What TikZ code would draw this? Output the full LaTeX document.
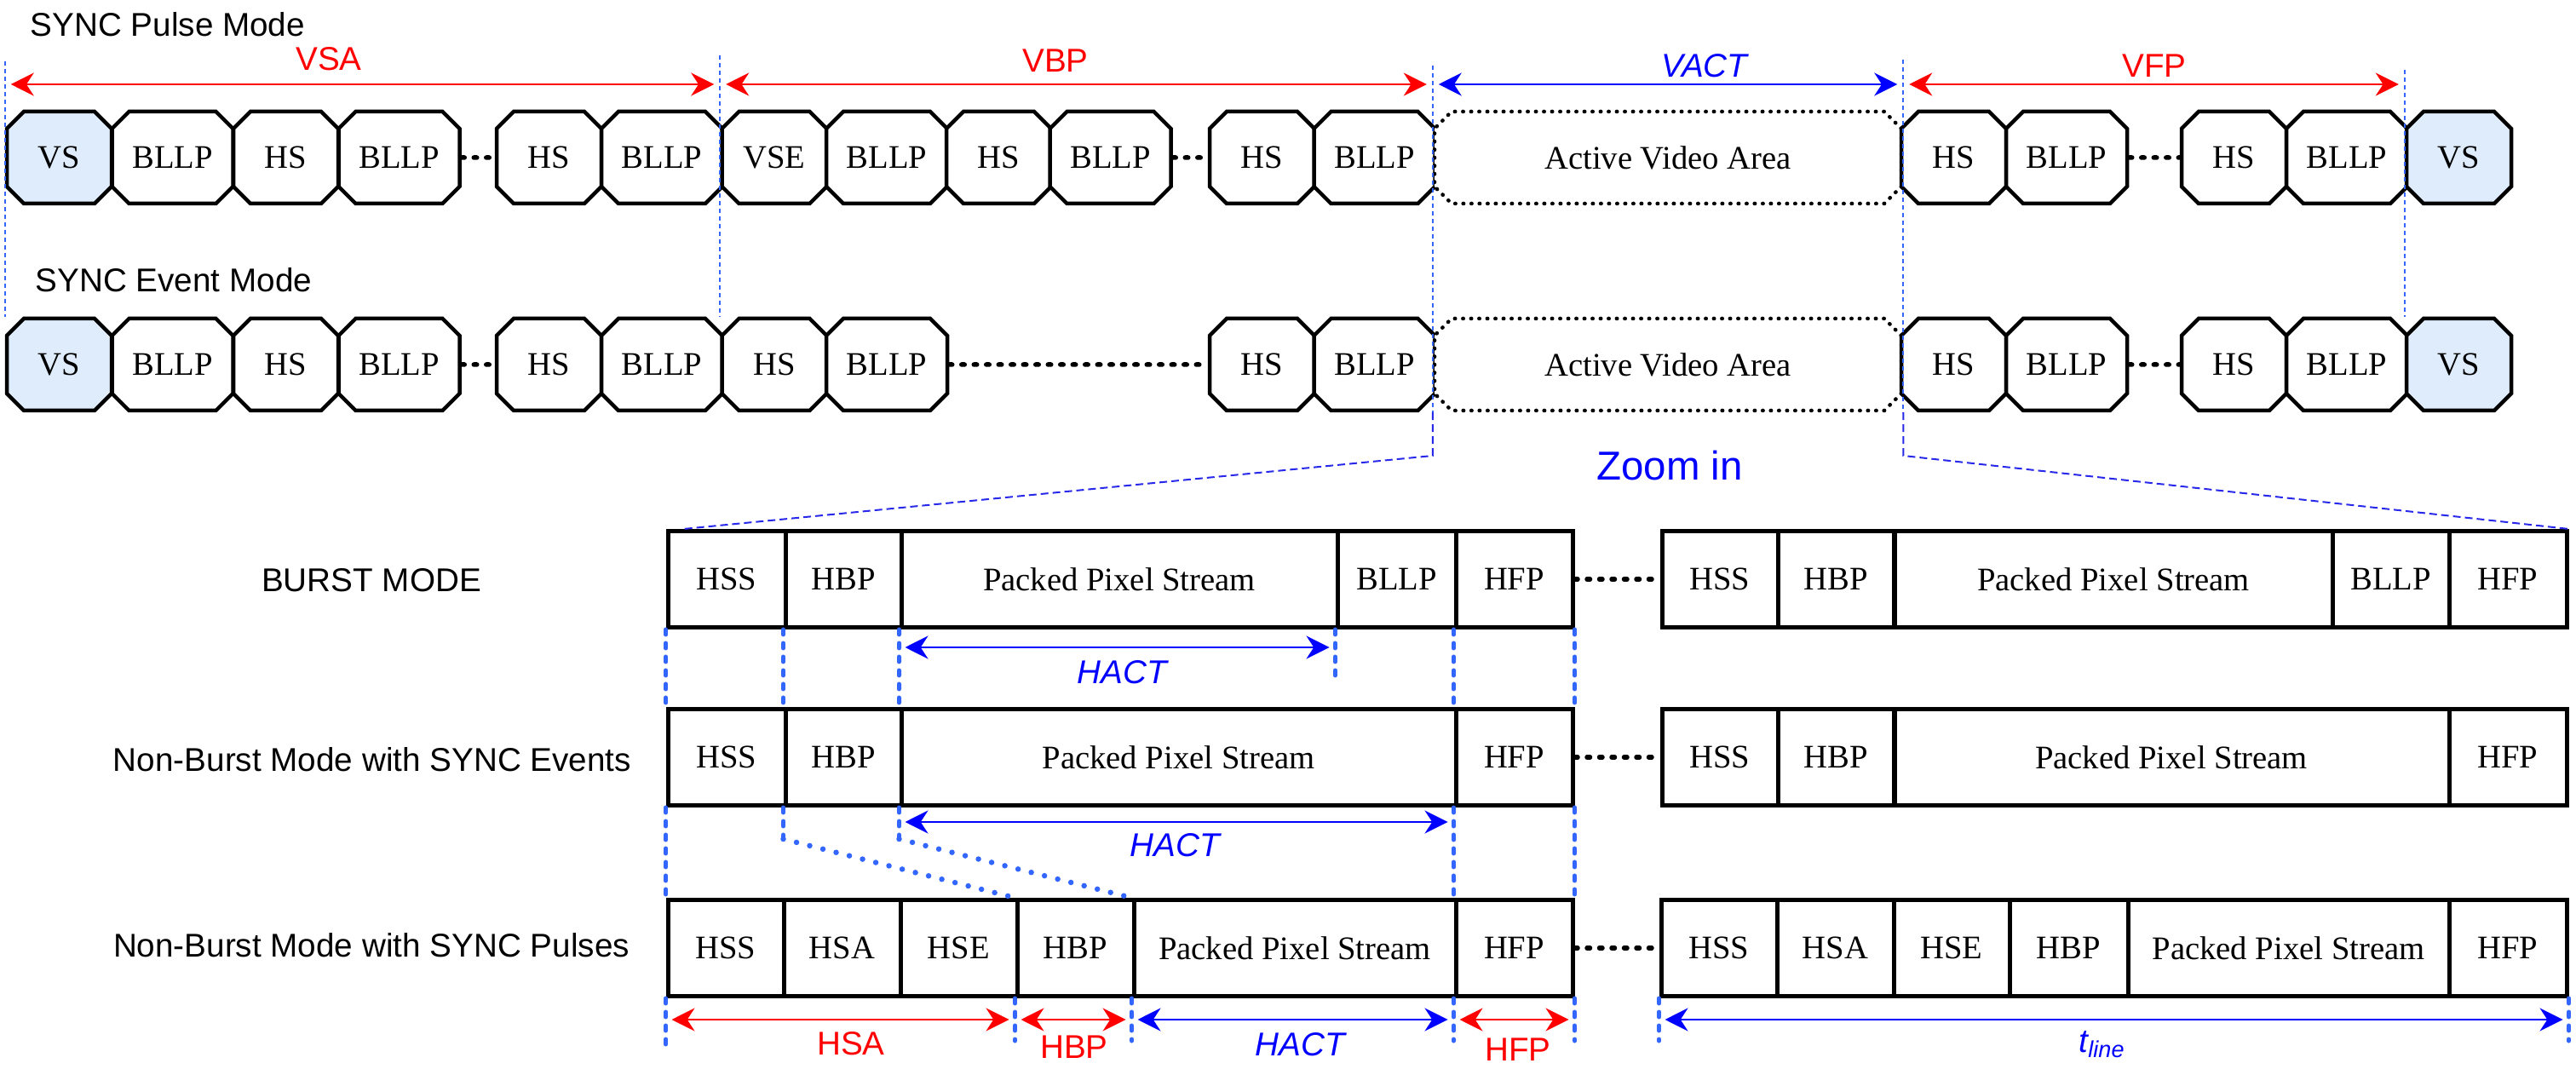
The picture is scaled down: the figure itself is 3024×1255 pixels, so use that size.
\documentclass[tikz,border=0pt]{standalone}
\usepackage{fontspec}
\setmainfont{Liberation Serif}
\setsansfont{Liberation Sans}
\usetikzlibrary{shapes.misc,arrows.meta}
\definecolor{guideblue}{RGB}{51,102,255}
\definecolor{zoomblue}{RGB}{40,40,235}
\definecolor{vsfill}{RGB}{222,236,252}
\definecolor{dimred}{RGB}{255,0,0}
\definecolor{dimblue}{RGB}{0,0,255}

\begin{document}
\begin{tikzpicture}[x=0.1mm, y=-0.1mm,
    pk/.style={chamfered rectangle, chamfered rectangle xsep=1.0mm,
               chamfered rectangle ysep=1.0mm, draw, line width=0.45mm, fill=white,
               minimum height=10.8mm, inner sep=0pt, font=\fontsize{11}{13}\selectfont},
    hs/.style={pk, minimum width=12.3mm},
    ll/.style={pk, minimum width=14.2mm},
    vs/.style={hs, fill=vsfill},
    actarea/.style={pk, minimum width=54.8mm, line width=0.45mm, line cap=round,
                    dash pattern=on 0.05mm off 0.9mm},
    cell/.style={draw, line width=0.5mm, minimum height=11.3mm, inner sep=0pt,
                 font=\fontsize{11}{13}\selectfont},
    gapdots/.style={line width=0.55mm, line cap=round, dash pattern=on 0.35mm off 1.1mm},
    thinguide/.style={guideblue, line width=0.2mm, dash pattern=on 0.5mm off 0.4mm},
    guide/.style={guideblue, line width=0.5mm, line cap=round, dash pattern=on 0.6mm off 1.0mm},
    zoomline/.style={zoomblue, line width=0.2mm, dash pattern=on 0.9mm off 0.5mm},
    zoomdots/.style={guideblue, line width=0.65mm, line cap=round, dash pattern=on 0pt off 1.6mm},
    dimr/.style={<->, dimred, line width=0.2mm, shorten <=0.7mm, shorten >=0.7mm},
    dimb/.style={dimr, dimblue},
    modelab/.style={inner sep=0pt, font=\sffamily\fontsize{11}{13}\selectfont},
    dimlab/.style={modelab, text=dimred},
    dimlabb/.style={modelab, text=dimblue, font=\sffamily\itshape\fontsize{11}{13}\selectfont},
    >={Stealth[length=2.7mm,width=2.7mm]}]
    \useasboundingbox (0,0) rectangle (3024,1255);

    % SYNC pulse mode
    \node[modelab, anchor=base west] (tpm) at (35,43) {SYNC Pulse Mode};
    \node[vs] (pu1)  at (69.5,185)   {VS};
    \node[ll] (pu2)  at (202.5,185)  {BLLP};
    \node[hs] (pu3)  at (335.5,185)  {HS};
    \node[ll] (pu4)  at (468.5,185)  {BLLP};
    \node[hs] (pu5)  at (644.5,185)  {HS};
    \node[ll] (pu6)  at (777,185)    {BLLP};
    \node[hs] (pu7)  at (909,185)    {VSE};
    \node[ll] (pu8)  at (1041,185)   {BLLP};
    \node[hs] (pu9)  at (1172.5,185) {HS};
    \node[ll] (pu10) at (1303.5,185) {BLLP};
    \node[hs] (pu11) at (1481.5,185) {HS};
    \node[ll] (pu12) at (1613.5,185) {BLLP};
    \node[actarea] (pu13) at (1958,185) {Active Video Area};
    \node[hs] (pu14) at (2293.5,185) {HS};
    \node[ll] (pu15) at (2426,185)   {BLLP};
    \node[hs] (pu16) at (2622.5,185) {HS};
    \node[ll] (pu17) at (2755,185)   {BLLP};
    \node[vs] (pu18) at (2886.5,185) {VS};
    \draw[gapdots] (pu4) -- (pu5);
    \draw[gapdots] (pu10) -- (pu11);
    \draw[gapdots] (pu15) -- (pu16);

    % SYNC event mode
    \node[modelab, anchor=base west] (tem) at (41,343) {SYNC Event Mode};
    \node[vs] (ev1)  at (69.5,428)   {VS};
    \node[ll] (ev2)  at (202.5,428)  {BLLP};
    \node[hs] (ev3)  at (335.5,428)  {HS};
    \node[ll] (ev4)  at (468.5,428)  {BLLP};
    \node[hs] (ev5)  at (644.5,428)  {HS};
    \node[ll] (ev6)  at (777,428)    {BLLP};
    \node[hs] (ev7)  at (909,428)    {HS};
    \node[ll] (ev8)  at (1041,428)   {BLLP};
    \node[hs] (ev9)  at (1481.5,428) {HS};
    \node[ll] (ev10) at (1613.5,428) {BLLP};
    \node[actarea] (ev11) at (1958,428) {Active Video Area};
    \node[hs] (ev12) at (2293.5,428) {HS};
    \node[ll] (ev13) at (2426,428)   {BLLP};
    \node[hs] (ev14) at (2622.5,428) {HS};
    \node[ll] (ev15) at (2755,428)   {BLLP};
    \node[vs] (ev16) at (2886.5,428) {VS};
    \draw[gapdots] (ev4) -- (ev5);
    \draw[gapdots] (ev8) -- (ev9);
    \draw[gapdots] (ev13) -- (ev14);

    % vertical timing
    \draw[thinguide] (pu1.west |- 0,72) -- (ev1.west |- ev1.north);
    \draw[thinguide] (pu7.west |- 0,65) -- (ev7.west |- ev7.north);
    \draw[thinguide] (pu13.west |- 0,77) -- (ev11.west |- ev11.south);
    \draw[thinguide] (pu13.east |- 0,70) -- (ev11.east |- ev11.south);
    \draw[thinguide] (pu18.west |- 0,82) -- (ev16.west |- ev16.north);
    \draw[dimr] (pu1.west |- 0,99) -- (pu7.west |- 0,99);
    \draw[dimr] (pu7.west |- 0,99) -- (pu13.west |- 0,99);
    \draw[dimb] (pu13.west |- 0,99) -- (pu13.east |- 0,99);
    \draw[dimr] (pu13.east |- 0,99) -- (pu18.west |- 0,99);
    \node[dimlab] (lvsa) at (386,69) {VSA};
    \node[dimlab] (lvbp) at (1239,71) {VBP};
    \node[dimlabb] (lvact) at (2001,77) {VACT};
    \node[dimlab] (lvfp) at (2529,77) {VFP};

    % zoom in
    \node[modelab, text=dimblue, font=\sffamily\fontsize{13.5}{16}\selectfont] (zin) at (1960,547) {Zoom in};

    % burst mode
    \node[modelab] (tbm) at (436,681) {BURST MODE};
    \node[cell, minimum width=13.8mm] (bu1) at (853,680)    {HSS};
    \node[cell, minimum width=13.6mm] (bu2) at (990,680)    {HBP};
    \node[cell, minimum width=51.2mm] (bu3) at (1314,680)   {Packed Pixel Stream};
    \node[cell, minimum width=13.9mm] (bu4) at (1639.5,680) {BLLP};
    \node[cell, minimum width=13.7mm] (bu5) at (1777.5,680) {HFP};
    \node[cell, minimum width=13.6mm] (bur1) at (2019,680)   {HSS};
    \node[cell, minimum width=13.7mm] (bur2) at (2155.5,680) {HBP};
    \node[cell, minimum width=51.5mm] (bur3) at (2481,680)   {Packed Pixel Stream};
    \node[cell, minimum width=13.7mm] (bur4) at (2806.5,680) {BLLP};
    \node[cell, minimum width=13.8mm] (bur5) at (2944,680)   {HFP};
    \draw[gapdots] (bu5) -- (bur1);

    % non-burst mode with sync events
    \node[modelab] (tne) at (437,892) {Non-Burst Mode with SYNC Events};
    \node[cell, minimum width=13.8mm] (ne1) at (853,889)    {HSS};
    \node[cell, minimum width=13.6mm] (ne2) at (990,889)    {HBP};
    \node[cell, minimum width=65.1mm] (ne3) at (1383.5,889) {Packed Pixel Stream};
    \node[cell, minimum width=13.7mm] (ne4) at (1777.5,889) {HFP};
    \node[cell, minimum width=13.6mm] (ner1) at (2019,889)   {HSS};
    \node[cell, minimum width=13.7mm] (ner2) at (2155.5,889) {HBP};
    \node[cell, minimum width=65.2mm] (ner3) at (2549,889)   {Packed Pixel Stream};
    \node[cell, minimum width=13.8mm] (ner4) at (2944,889)   {HFP};
    \draw[gapdots] (ne4) -- (ner1);

    % non-burst mode with sync pulses
    \node[modelab] (tnp) at (436,1110) {Non-Burst Mode with SYNC Pulses};
    \node[cell, minimum width=13.6mm] (np1) at (852,1113)    {HSS};
    \node[cell, minimum width=13.7mm] (np2) at (988.5,1113)  {HSA};
    \node[cell, minimum width=13.7mm] (np3) at (1125.5,1113) {HSE};
    \node[cell, minimum width=13.7mm] (np4) at (1262.5,1113) {HBP};
    \node[cell, minimum width=37.8mm] (np5) at (1520,1113)   {Packed Pixel Stream};
    \node[cell, minimum width=13.7mm] (np6) at (1777.5,1113) {HFP};
    \node[cell, minimum width=13.6mm] (npr1) at (2018,1113)   {HSS};
    \node[cell, minimum width=13.7mm] (npr2) at (2154.5,1113) {HSA};
    \node[cell, minimum width=13.6mm] (npr3) at (2291,1113)   {HSE};
    \node[cell, minimum width=13.9mm] (npr4) at (2428.5,1113) {HBP};
    \node[cell, minimum width=37.7mm] (npr5) at (2686.5,1113) {Packed Pixel Stream};
    \node[cell, minimum width=13.8mm] (npr6) at (2944,1113)   {HFP};
    \draw[gapdots] (np6) -- (npr1);

    % zoom lines
    \draw[zoomline] (ev11.west |- ev11.south) -- (ev11.west |- 0,535) -- ([xshift=2.1mm]bu1.north west);
    \draw[zoomline] (ev11.east |- ev11.south) -- (ev11.east |- 0,535) -- (bur5.north east);

    % guides between the rows
    \draw[guide] (bu1.south west) -- (ne1.north west);
    \draw[guide] (bu2.south west) -- (ne2.north west);
    \draw[guide] (bu3.south west) -- (ne3.north west);
    \draw[guide] (bu4.south west) -- ++(0,56);
    \draw[guide] (bu5.south west) -- (ne4.north west);
    \draw[guide] (bu5.south east) -- (ne4.north east);
    \draw[guide] (ne1.south west) -- (np1.north west);
    \draw[guide] (ne4.south west) -- (np6.north west);
    \draw[guide] (ne4.south east) -- (np6.north east);
    \draw[guide] (ne2.south west) -- ++(0,37) coordinate (k1);
    \draw[guide] (ne3.south west) -- ++(0,37) coordinate (k2);
    \draw[zoomdots] (k1) -- (np4.north west);
    \draw[zoomdots] (k2) -- (np5.north west);
    \draw[guide] (np1.south west) -- ++(0,54);
    \draw[guide] (np4.south west) -- ++(0,50);
    \draw[guide] (np5.south west) -- ++(0,50);
    \draw[guide] (np6.south west) -- ++(0,50);
    \draw[guide] (np6.south east) -- ++(0,50);
    \draw[guide] (npr1.south west) -- ++(0,50);
    \draw[guide] (npr6.south east) -- ++(0,50);

    % horizontal timing
    \draw[dimb] (bu3.south west |- 0,760) -- (bu4.south west |- 0,760);
    \node[dimlabb] (lha1) at (1317,789) {HACT};
    \draw[dimb] (ne3.south west |- 0,965) -- (ne4.south west |- 0,965);
    \node[dimlabb] (lha2) at (1379,992) {HACT};
    \draw[dimr] (np1.south west |- 0,1197) -- (np4.south west |- 0,1197);
    \draw[dimr] (np4.south west |- 0,1197) -- (np5.south west |- 0,1197);
    \draw[dimb] (np5.south west |- 0,1197) -- (np6.south west |- 0,1197);
    \draw[dimr] (np6.south west |- 0,1197) -- (np6.south east |- 0,1197);
    \draw[dimb] (npr1.south west |- 0,1197) -- (npr6.south east |- 0,1197);
    \node[dimlab] (lhsa) at (999,1225) {HSA};
    \node[dimlab] (lhbp) at (1261,1229) {HBP};
    \node[dimlabb] (lha3) at (1526,1226) {HACT};
    \node[dimlab] (lhfp) at (1782,1232) {HFP};
    \node[dimlabb] (ltl) at (2468,1226) {t\textsubscript{line}};
\end{tikzpicture}
\end{document}
